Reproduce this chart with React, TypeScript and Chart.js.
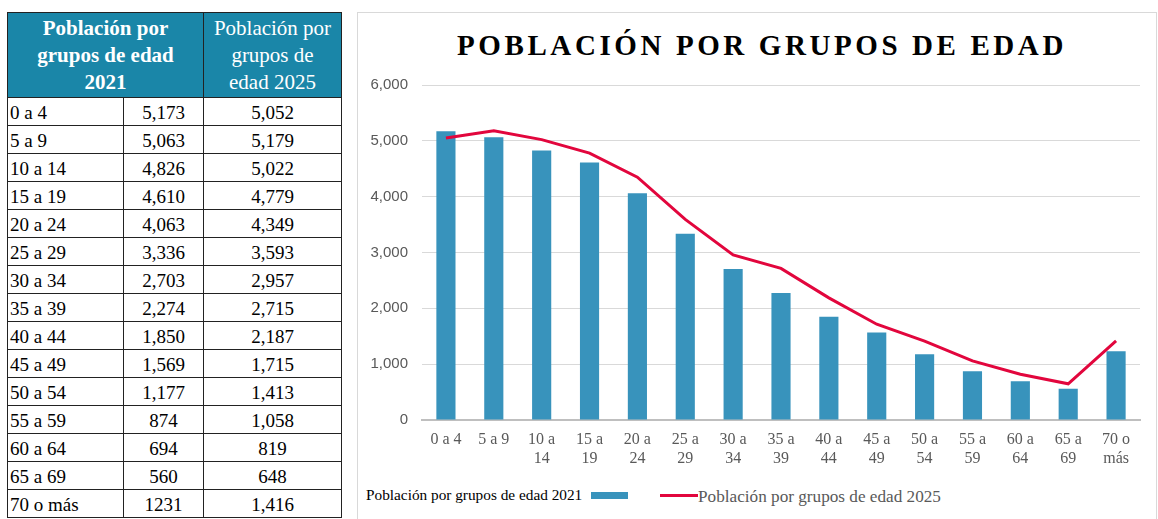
import React, { useEffect, useRef } from "react";
import { Chart, registerables } from "chart.js";

Chart.register(...registerables);

const categories = ["0 a 4", "5 a 9", "10 a 14", "15 a 19", "20 a 24", "25 a 29", "30 a 34", "35 a 39", "40 a 44", "45 a 49", "50 a 54", "55 a 59", "60 a 64", "65 a 69", "70 o más"];
const xTickLabels = [["0 a 4"], ["5 a 9"], ["10 a", "14"], ["15 a", "19"], ["20 a", "24"], ["25 a", "29"], ["30 a", "34"], ["35 a", "39"], ["40 a", "44"], ["45 a", "49"], ["50 a", "54"], ["55 a", "59"], ["60 a", "64"], ["65 a", "69"], ["70 o", "más"]];
const values2021 = [5173, 5063, 4826, 4610, 4063, 3336, 2703, 2274, 1850, 1569, 1177, 874, 694, 560, 1231];
const values2025 = [5052, 5179, 5022, 4779, 4349, 3593, 2957, 2715, 2187, 1715, 1413, 1058, 819, 648, 1416];
const tableText2021 = ["5,173", "5,063", "4,826", "4,610", "4,063", "3,336", "2,703", "2,274", "1,850", "1,569", "1,177", "874", "694", "560", "1231"];
const tableText2025 = ["5,052", "5,179", "5,022", "4,779", "4,349", "3,593", "2,957", "2,715", "2,187", "1,715", "1,413", "1,058", "819", "648", "1,416"];
const yTicks = [0, 1000, 2000, 3000, 4000, 5000, 6000];

const series2021Name = "Población por grupos de edad 2021";
const series2025Name = "Población por grupos de edad 2025";
const chartTitle = "POBLACIÓN POR GRUPOS DE EDAD";

const BAR_COLOR = "#3893bc";
const LINE_COLOR = "#e2063d";
const HEADER_BG = "#1a86a8";
const SERIF = "'Liberation Serif', 'Times New Roman', serif";
const SANS = "'Liberation Sans', Arial, sans-serif";

function DataTable() {
  const cell: React.CSSProperties = {
    border: "1px solid #222",
    padding: 0,
    paddingTop: 2,
    height: 25,
    fontSize: 19,
    lineHeight: "25px",
    color: "#000",
    verticalAlign: "middle",
  };
  const head: React.CSSProperties = {
    border: "1px solid #222",
    background: HEADER_BG,
    color: "#fff",
    fontSize: 21,
    lineHeight: "27px",
    height: 84,
    padding: 0,
    textAlign: "center",
  };
  return (
    <table
      style={{
        position: "absolute",
        left: 7,
        top: 12,
        width: 334,
        borderCollapse: "collapse",
        fontFamily: SERIF,
        tableLayout: "fixed",
      }}
    >
      <colgroup>
        <col style={{ width: 116 }} />
        <col style={{ width: 80 }} />
        <col style={{ width: 138 }} />
      </colgroup>
      <thead>
        <tr>
          <th colSpan={2} style={{ ...head, fontWeight: "bold" }}>
            Población por
            <br />
            grupos de edad
            <br />
            2021
          </th>
          <th style={{ ...head, fontWeight: "normal" }}>
            Población por
            <br />
            grupos de
            <br />
            edad 2025
          </th>
        </tr>
      </thead>
      <tbody>
        {categories.map((c, i) => (
          <tr key={c}>
            <td style={{ ...cell, textAlign: "left", paddingLeft: 2 }}>{c}</td>
            <td style={{ ...cell, textAlign: "center" }}>{tableText2021[i]}</td>
            <td style={{ ...cell, textAlign: "center" }}>{tableText2025[i]}</td>
          </tr>
        ))}
      </tbody>
    </table>
  );
}

function PopChart() {
  const ref = useRef<HTMLCanvasElement | null>(null);
  useEffect(() => {
    if (!ref.current) return;
    const chart = new Chart(ref.current, {
      type: "bar",
      data: {
        labels: xTickLabels as any,
        datasets: [
          {
            type: "line",
            label: series2025Name,
            data: values2025,
            borderColor: LINE_COLOR,
            backgroundColor: LINE_COLOR,
            borderWidth: 3,
            pointRadius: 0,
            tension: 0,
            order: 0,
          } as any,
          {
            type: "bar",
            label: series2021Name,
            data: values2021,
            backgroundColor: BAR_COLOR,
            barPercentage: 0.8,
            categoryPercentage: 0.5,
            order: 1,
          },
        ],
      },
      options: {
        animation: false,
        responsive: false,
        maintainAspectRatio: false,
        layout: { padding: { top: 25, right: 17, bottom: 0, left: 0 } },
        plugins: {
          legend: { display: false },
          title: { display: false },
          tooltip: { enabled: false },
        },
        scales: {
          x: {
            grid: { display: false, drawTicks: false },
            border: { display: true, color: "#bfbfbf", width: 2 },
            ticks: {
              color: "#595959",
              font: { family: SERIF, size: 16, lineHeight: 1.2 },
              padding: 10,
              maxRotation: 0,
              autoSkip: false,
            },
            afterFit: (s: any) => {
              s.height = 60;
            },
          },
          y: {
            min: 0,
            max: 6000,
            afterBuildTicks: (s: any) => {
              s.ticks = yTicks.map((v) => ({ value: v }));
            },
            grid: { color: "#d9d9d9", lineWidth: 1, drawTicks: false },
            border: { display: false },
            ticks: {
              color: "#595959",
              font: { family: SANS, size: 15 },
              padding: 14,
              callback: (v: any) => Number(v).toLocaleString("en-US"),
            },
            afterFit: (s: any) => {
              s.width = 65;
            },
          },
        },
      },
    });
    return () => chart.destroy();
  }, []);
  return (
    <canvas
      ref={ref}
      width={800}
      height={420}
      style={{ position: "absolute", left: 357, top: 60, width: 800, height: 420 }}
    />
  );
}

export default function App() {
  return (
    <div
      style={{
        position: "absolute",
        left: 0,
        top: 0,
        width: 1158,
        height: 519,
        overflow: "hidden",
        background: "#fff",
      }}
    >
      <DataTable />
      <div
        style={{
          position: "absolute",
          left: 357,
          top: 12,
          width: 800,
          height: 530,
          border: "1px solid #d9d9d9",
          boxSizing: "border-box",
        }}
      />
      <div
        style={{
          position: "absolute",
          left: 357,
          top: 27,
          width: 810,
          textAlign: "center",
          fontFamily: SERIF,
          fontWeight: "bold",
          fontSize: 29,
          letterSpacing: 3.6,
          color: "#000",
          lineHeight: "36px",
          whiteSpace: "nowrap",
        }}
      >
        {chartTitle}
      </div>
      <PopChart />
      <div
        style={{
          position: "absolute",
          left: 366,
          top: 486,
          fontFamily: SERIF,
          fontSize: 15.3,
          color: "#000",
          lineHeight: "18px",
          whiteSpace: "nowrap",
        }}
      >
        {series2021Name}
      </div>
      <div style={{ position: "absolute", left: 591, top: 492, width: 37, height: 7, background: BAR_COLOR }} />
      <div style={{ position: "absolute", left: 660, top: 494, width: 38, height: 3, background: LINE_COLOR }} />
      <div
        style={{
          position: "absolute",
          left: 698,
          top: 487,
          fontFamily: SERIF,
          fontSize: 17.2,
          color: "#595959",
          lineHeight: "20px",
          whiteSpace: "nowrap",
        }}
      >
        {series2025Name}
      </div>
    </div>
  );
}
